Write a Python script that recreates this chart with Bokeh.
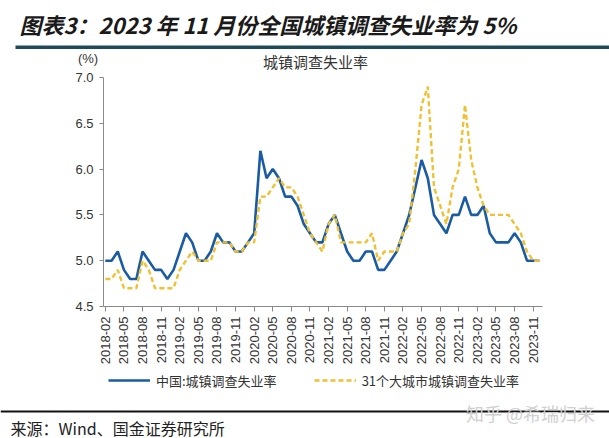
import math
from bokeh.plotting import figure
from bokeh.models import (Range1d, FixedTicker, PrintfTickFormatter, Legend,
                          LegendItem, Label, BoxAnnotation)
from bokeh.embed import file_html
from bokeh.resources import INLINE

# ---------------- data ----------------
months = [f"{y}-{m:02d}" for y in range(2018, 2024) for m in range(1, 13)][:71]

national = [
    5.0, 5.0, 5.1, 4.9, 4.8, 4.8, 5.1, 5.0, 4.9, 4.9, 4.8, 4.9,   # 2018
    5.1, 5.3, 5.2, 5.0, 5.0, 5.1, 5.3, 5.2, 5.2, 5.1, 5.1, 5.2,   # 2019
    5.3, 6.2, 5.9, 6.0, 5.9, 5.7, 5.7, 5.6, 5.4, 5.3, 5.2, 5.2,   # 2020
    5.4, 5.5, 5.3, 5.1, 5.0, 5.0, 5.1, 5.1, 4.9, 4.9, 5.0, 5.1,   # 2021
    5.3, 5.5, 5.8, 6.1, 5.9, 5.5, 5.4, 5.3, 5.5, 5.5, 5.7, 5.5,   # 2022
    5.5, 5.6, 5.3, 5.2, 5.2, 5.2, 5.3, 5.2, 5.0, 5.0, 5.0,        # 2023
]

cities31 = [
    4.8, 4.8, 4.9, 4.7, 4.7, 4.7, 5.0, 4.9, 4.7, 4.7, 4.7, 4.7,   # 2018
    4.9, 5.0, 5.1, 5.0, 5.0, 5.0, 5.2, 5.2, 5.2, 5.1, 5.1, 5.2,   # 2019
    5.2, 5.7, 5.7, 5.8, 5.9, 5.8, 5.8, 5.7, 5.5, 5.3, 5.2, 5.1,   # 2020
    5.4, 5.5, 5.2, 5.2, 5.2, 5.2, 5.2, 5.3, 5.0, 5.1, 5.1, 5.1,   # 2021
    5.3, 5.4, 6.0, 6.7, 6.9, 5.8, 5.6, 5.4, 5.8, 6.0, 6.7, 6.1,   # 2022
    5.8, 5.6, 5.5, 5.5, 5.5, 5.5, 5.4, 5.3, 5.1, 5.0, 5.0,        # 2023
]

tick_labels = [
    "2018-02", "2018-05", "2018-08", "2018-11",
    "2019-02", "2019-05", "2019-08", "2019-11",
    "2020-02", "2020-05", "2020-08", "2020-11",
    "2021-02", "2021-05", "2021-08", "2021-11",
    "2022-02", "2022-05", "2022-08", "2022-11",
    "2023-02", "2023-05", "2023-08", "2023-11",
]
y_ticks = [4.5, 5.0, 5.5, 6.0, 6.5, 7.0]

series_names = ["中国:城镇调查失业率", "31个大城市城镇调查失业率"]
title_text = "图表3：2023 年 11 月份全国城镇调查失业率为 5%"
chart_title = "城镇调查失业率"
unit_text = "(%)"
source_text = "来源：Wind、国金证券研究所"
watermark_text = "知乎 @希瑞归来"

BLUE = "#1A5CA3"
GOLD = "#F0C030"
CJK = "Noto Sans CJK SC"
LAT = "Liberation Sans"

# ---------------- geometry (canvas pixels -> data) ----------------
W, H = 609, 438
AX_L, AX_R, AX_T, AX_B = 103, 542, 77, 306      # plotting area inside canvas
XA, XB = -0.3, 70.5                              # x extent of plotting area
YA, YB = 4.5, 7.0                                # y extent of plotting area
SX = (AX_R - AX_L) / (XB - XA)
SY = (AX_B - AX_T) / (YB - YA)


def dx(fx):
    return XA + (fx - AX_L) / SX


def dy(fy):
    return YB - (fy - AX_T) / SY


x = list(range(len(months)))
p = figure(width=W, height=H, output_backend="svg", toolbar_location=None,
           title=None, x_range=Range1d(dx(0), dx(W)), y_range=Range1d(dy(H), dy(0)),
           min_border=0, min_border_left=0, min_border_right=0,
           min_border_top=0, min_border_bottom=0)
p.xgrid.visible = False
p.ygrid.visible = False
p.outline_line_color = None
p.background_fill_color = "white"
p.border_fill_color = "white"

r_nat = p.line(x, national, line_color=BLUE, line_width=2.6)
r_city = p.line(x, cities31, line_color=GOLD, line_width=2.4, line_dash="5 3")

tick_pos = [3 * k for k in range(len(tick_labels))]
xa = p.xaxis[0]
xa.fixed_location = YA
xa.bounds = (XA, XB)
xa.ticker = FixedTicker(ticks=tick_pos)
xa.major_label_overrides = {pos: lab for pos, lab in zip(tick_pos, tick_labels)}
xa.major_label_orientation = math.pi / 2
xa.major_tick_out = 5
xa.major_tick_in = 0
xa.minor_tick_line_color = None
xa.major_label_standoff = 5

ya = p.yaxis[0]
ya.fixed_location = XA
ya.bounds = (YA, YB)
ya.ticker = FixedTicker(ticks=y_ticks)
ya.formatter = PrintfTickFormatter(format="%.1f")
ya.major_tick_out = 4
ya.major_tick_in = 0
ya.minor_tick_line_color = None
ya.major_label_standoff = 6

for ax in (xa, ya):
    ax.axis_line_color = "#8a8a8a"
    ax.major_tick_line_color = "#8a8a8a"
    ax.major_label_text_font = LAT
    ax.major_label_text_font_size = "13px"
    ax.major_label_text_color = "#333333"

legend = Legend(items=[LegendItem(label=series_names[0], renderers=[r_nat]),
                       LegendItem(label=series_names[1], renderers=[r_city])],
                orientation="horizontal", location=(108, 46),
                glyph_width=42, glyph_height=24, label_height=24,
                label_standoff=6, spacing=37,
                padding=0, margin=0, border_line_color=None,
                background_fill_alpha=0,
                label_text_font=CJK, label_text_font_size="13px",
                label_text_color="#333333")
p.add_layout(legend)

# ---------------- texts and rules around the chart ----------------
p.add_layout(Label(x=dx(19), y=dy(23), text=title_text, text_font=CJK,
                   text_font_size="22px", text_font_style="bold italic",
                   text_color="#1a1a1a", text_baseline="middle", text_align="left"))
p.add_layout(BoxAnnotation(left=dx(15), right=dx(W), top=dy(45), bottom=dy(48.5),
                           fill_color="#1f4b58", fill_alpha=1.0, line_color=None))
p.add_layout(Label(x=dx(87.5), y=dy(58), text=unit_text, text_font=LAT,
                   text_font_size="13px", text_color="#333333",
                   text_baseline="middle", text_align="center"))
p.add_layout(Label(x=dx(315), y=dy(61), text=chart_title, text_font=CJK,
                   text_font_size="15px", text_color="#333333",
                   text_baseline="middle", text_align="center"))
p.add_layout(BoxAnnotation(left=dx(0), right=dx(W), top=dy(410), bottom=dy(412),
                           fill_color="#111111", fill_alpha=1.0, line_color=None))
p.add_layout(Label(x=dx(530), y=dy(412), text=watermark_text, text_font=CJK,
                   text_font_size="18px", text_color="#d0d0d0",
                   text_baseline="middle", text_align="center"))
p.add_layout(Label(x=dx(10), y=dy(427), text=source_text, text_font=CJK,
                   text_font_size="16px", text_color="#222222",
                   text_baseline="middle", text_align="left"))

open("out.html", "w").write(file_html(p, INLINE))
